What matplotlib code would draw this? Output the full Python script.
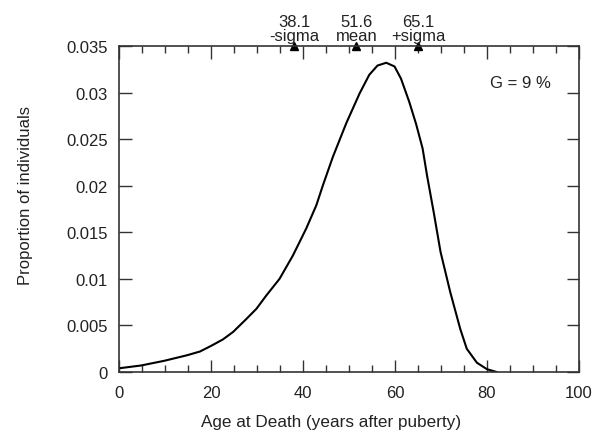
import numpy as np
import matplotlib.pyplot as plt
from matplotlib.ticker import MultipleLocator

plt.rcParams['font.family'] = ['Liberation Sans', 'DejaVu Sans']

# curve
age = [0, 4.8, 9.8, 14.8, 17.6, 20.0, 22.6, 24.8, 27.7, 29.9, 32.0, 34.9, 37.8,
       40.7, 42.9, 44.3, 46.5, 49.4, 52.3, 54.4, 56.2, 58.1, 59.9, 61.3, 63.1,
       64.6, 66.0, 67.0, 68.4, 69.9, 72.0, 74.2, 75.6, 77.8, 80.0, 82.1]
prop = [0.0004, 0.0007, 0.0012, 0.0018, 0.0022, 0.0028, 0.0035, 0.0043, 0.0057,
        0.0068, 0.0082, 0.0100, 0.0125, 0.0154, 0.0179, 0.0200, 0.0231, 0.0267,
        0.0299, 0.0319, 0.0329, 0.0332, 0.0328, 0.0315, 0.0290, 0.0266, 0.0240,
        0.0210, 0.0172, 0.0129, 0.0086, 0.0046, 0.0025, 0.0010, 0.0003, 0.0]

marks = [38.1, 51.6, 65.1]
mark_names = ['-sigma', 'mean', '+sigma']

yticks = [0, 0.005, 0.01, 0.015, 0.02, 0.025, 0.03, 0.035]
ylabels = ['0', '0.005', '0.01', '0.015', '0.02', '0.025', '0.03', '0.035']

fig = plt.figure(figsize=(6.04, 4.35), dpi=100)
ax = fig.add_axes([0.197, 0.1425, 0.7616, 0.7495])

ax.plot(age, prop, color='black', lw=1.5, solid_joinstyle='round')
ax.set_xlim(0, 100)
ax.set_ylim(0, 0.035)

ax.xaxis.set_major_locator(MultipleLocator(20))
ax.xaxis.set_minor_locator(MultipleLocator(5))
ax.set_yticks(yticks)
ax.set_yticklabels(ylabels)
ax.tick_params(direction='in', which='both', top=True, right=True, labelsize=12,
               color='#333333', labelcolor='#222222')
ax.tick_params(axis='y', pad=8)
ax.tick_params(axis='x', pad=9)
ax.tick_params(which='major', length=9, width=1)
ax.tick_params(which='minor', length=5, width=1)
for s in ax.spines.values():
    s.set_color('#333333')
    s.set_linewidth(1.2)

for m, n in zip(marks, mark_names):
    ax.plot(m, 0.035, marker='^', color='black', ms=6, clip_on=False)
    ax.text(m, 0.03535, f'{m}\n{n}', ha='center', va='bottom', fontsize=12,
            linespacing=0.87, color='#222222')

ax.text(87.2, 0.0311, 'G = 9 %', ha='center', va='center', fontsize=12,
        color='#222222')

ax.set_xlabel('Age at Death (years after puberty)', fontsize=12.3, color='#222222')
ax.set_ylabel('Proportion of individuals', fontsize=12, color='#222222')
ax.xaxis.set_label_coords(0.462, -0.128)
ax.yaxis.set_label_coords(-0.187, 0.544)

fig.savefig('out.png', dpi=100)
